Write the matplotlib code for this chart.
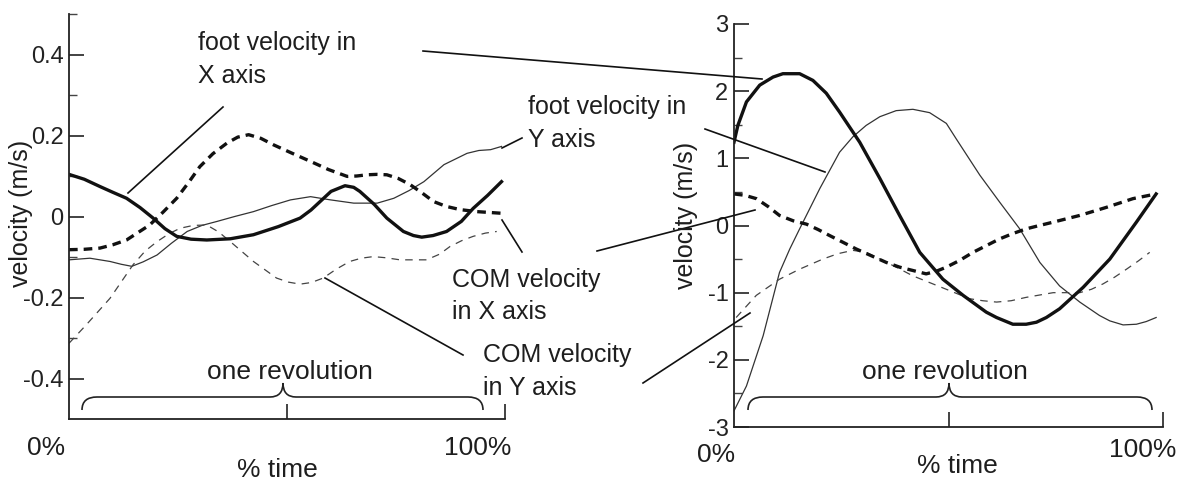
import numpy as np
import matplotlib.pyplot as plt
from matplotlib.path import Path
from matplotlib.patches import PathPatch

plt.rcParams['font.family'] = ['Liberation Sans', 'DejaVu Sans']

# painel esquerdo (escala -0.5 .. 0.5)
esq_pe_x_t = [0, 3.5, 7.1, 10, 13.2, 16.3, 19.3, 22, 24.7, 28, 31.6, 37, 42.3, 48, 53, 55.5, 57.6, 60.1, 63.3, 65.3, 66.7, 70, 72.9, 76.7, 79, 80.9, 83.5, 86.6, 90, 92.7, 96, 99.2]
esq_pe_x_v = [0.104, 0.092, 0.074, 0.060, 0.045, 0.022, -0.004, -0.030, -0.049, -0.056, -0.058, -0.055, -0.045, -0.025, -0.004, 0.016, 0.037, 0.062, 0.076, 0.072, 0.062, 0.030, -0.004, -0.037, -0.047, -0.051, -0.047, -0.037, -0.012, 0.020, 0.052, 0.086]

esq_com_x_t = [0, 3.5, 7.1, 10, 13.2, 18.5, 21.5, 24.7, 27.5, 30, 33, 36.2, 38.7, 41.2, 44, 46.9, 51, 55.4, 59.5, 63.8, 66, 68.4, 70.6, 72.9, 75.5, 78.2, 81, 83.6, 86.5, 89.7, 93.6, 99.2]
esq_com_x_v = [-0.082, -0.081, -0.078, -0.070, -0.058, -0.021, 0.010, 0.045, 0.085, 0.123, 0.155, 0.181, 0.196, 0.202, 0.193, 0.177, 0.157, 0.136, 0.116, 0.099, 0.100, 0.103, 0.104, 0.103, 0.094, 0.079, 0.058, 0.037, 0.025, 0.017, 0.012, 0.008]

esq_pe_y_t = [0, 4.8, 9.4, 12, 14.4, 17, 20.2, 23.5, 27.1, 30.5, 34, 38, 42.3, 46.5, 50.8, 55.4, 60, 65.3, 70.7, 74.5, 78, 81.4, 86, 91.3, 94, 96.7, 99.2]
esq_pe_y_v = [-0.107, -0.103, -0.111, -0.118, -0.123, -0.112, -0.095, -0.066, -0.037, -0.022, -0.012, 0.000, 0.012, 0.027, 0.041, 0.049, 0.041, 0.033, 0.033, 0.045, 0.064, 0.086, 0.128, 0.156, 0.163, 0.165, 0.173]

esq_com_y_t = [0, 4, 9.4, 14.7, 17.5, 20.2, 23, 25.5, 28.5, 31.6, 34.3, 37, 42.3, 47.6, 50.3, 53, 55.6, 58.3, 61.3, 64.4, 67, 69.8, 72.8, 75.9, 82, 85, 87.4, 90, 92.7, 95.5, 98.1]
esq_com_y_v = [-0.313, -0.267, -0.202, -0.119, -0.085, -0.062, -0.042, -0.029, -0.022, -0.021, -0.038, -0.062, -0.111, -0.152, -0.162, -0.167, -0.163, -0.152, -0.130, -0.111, -0.103, -0.099, -0.102, -0.107, -0.107, -0.093, -0.074, -0.060, -0.049, -0.041, -0.037]

# painel direito (escala -3 .. 3)
dir_pe_x_t = [0, 0.9, 2.9, 6, 9.1, 11.4, 15.3, 18.4, 21.5, 24.6, 29.3, 34, 38.6, 43.3, 48.7, 53.4, 58.8, 61.2, 65, 68.1, 70.5, 72.8, 75.9, 81.4, 87.6, 93.8, 98.4]
dir_pe_x_v = [1.24, 1.49, 1.84, 2.09, 2.21, 2.26, 2.26, 2.16, 1.97, 1.69, 1.24, 0.70, 0.15, -0.40, -0.80, -1.04, -1.29, -1.37, -1.47, -1.47, -1.44, -1.37, -1.24, -0.92, -0.50, 0.05, 0.47]

dir_pe_y_t = [0, 2.9, 6.8, 10.6, 13, 15.3, 20, 24.6, 27.7, 30.8, 34, 37.8, 41.7, 45.6, 49.5, 51.8, 57.3, 61.9, 66.6, 71.3, 75.9, 80.6, 85.2, 87.6, 90.7, 93.8, 96.1, 98.4]
dir_pe_y_v = [-2.76, -2.39, -1.64, -0.70, -0.35, -0.05, 0.55, 1.09, 1.32, 1.49, 1.62, 1.71, 1.73, 1.68, 1.52, 1.29, 0.75, 0.35, -0.05, -0.55, -0.90, -1.14, -1.34, -1.42, -1.48, -1.47, -1.43, -1.37]

dir_com_x_t = [0, 2.5, 5.2, 8, 10.6, 13.8, 16.9, 19.6, 22.3, 25.4, 28.5, 32, 35.5, 38.6, 41.7, 44.8, 47.2, 49.5, 52.6, 55.7, 58.8, 61.9, 65, 68.1, 71.2, 74.4, 80.6, 86.8, 93, 98.4]
dir_com_x_v = [0.47, 0.45, 0.40, 0.28, 0.15, 0.07, 0.02, -0.06, -0.15, -0.25, -0.35, -0.45, -0.55, -0.62, -0.67, -0.72, -0.68, -0.62, -0.52, -0.40, -0.30, -0.20, -0.12, -0.05, 0.00, 0.05, 0.15, 0.27, 0.40, 0.47]

dir_com_y_t = [0.5, 5.2, 10.6, 15.3, 20.7, 24.2, 27.7, 30.8, 34, 37.8, 41.7, 45.6, 49.5, 54.9, 58, 61.2, 64.6, 68.1, 74.4, 80.6, 83.3, 86, 88.7, 91.5, 94.2, 96.9]
dir_com_y_v = [-1.37, -1.04, -0.80, -0.65, -0.50, -0.42, -0.37, -0.40, -0.50, -0.62, -0.75, -0.85, -0.95, -1.09, -1.12, -1.14, -1.12, -1.07, -1.00, -1.00, -0.95, -0.87, -0.77, -0.65, -0.53, -0.40]

cor_texto = '#1e1e1e'
fig = plt.figure(figsize=(11.89, 4.8), dpi=100)


def desenha_painel(ax, dados, ylim, major, minor, rotulos):
    for t, v, estilo in dados:
        if estilo == 'grossa':
            ax.plot(t, v, color='#111111', lw=2.4, solid_joinstyle='round')
        elif estilo == 'fina':
            ax.plot(t, v, color='#333333', lw=0.9, solid_joinstyle='round')
        elif estilo == 'grossa_tracejada':
            ax.plot(t, v, color='#111111', lw=2.4, dashes=(2.6, 1.8))
        else:
            ax.plot(t, v, color='#444444', lw=0.9, dashes=(6, 5))
    ax.set_xlim(0, 100)
    ax.set_ylim(*ylim)
    for lado in ['top', 'right']:
        ax.spines[lado].set_visible(False)
    for lado in ['left', 'bottom']:
        ax.spines[lado].set_color('#222222')
        ax.spines[lado].set_linewidth(1.3)
    ax.set_yticks(major)
    ax.set_yticklabels(rotulos)
    ax.set_yticks(minor, minor=True)
    ax.set_xticks([50, 100])
    ax.set_xticklabels([])
    ax.tick_params(axis='y', which='major', direction='in', length=11, width=1.2,
                   labelsize=17, colors='#222222', pad=4)
    ax.tick_params(axis='y', which='minor', direction='in', length=6, width=1.0, colors='#444444')
    ax.tick_params(axis='x', which='major', direction='in', length=11, width=1.2, colors='#222222')
    ax.patch.set_alpha(0)


ax1 = fig.add_axes([69 / 1189, 61 / 480, 436 / 1189, 405 / 480])
desenha_painel(ax1,
               [(esq_pe_y_t, esq_pe_y_v, 'fina'),
                (esq_com_y_t, esq_com_y_v, 'fina_tracejada'),
                (esq_com_x_t, esq_com_x_v, 'grossa_tracejada'),
                (esq_pe_x_t, esq_pe_x_v, 'grossa')],
               (-0.5, 0.5), [0.4, 0.2, 0, -0.2, -0.4], [0.5, 0.3, 0.1, -0.1, -0.3],
               ['0.4', '0.2', '0', '-0.2', '-0.4'])

ax2 = fig.add_axes([734 / 1189, 53 / 480, 429 / 1189, 403 / 480])
desenha_painel(ax2,
               [(dir_pe_y_t, dir_pe_y_v, 'fina'),
                (dir_com_y_t, dir_com_y_v, 'fina_tracejada'),
                (dir_com_x_t, dir_com_x_v, 'grossa_tracejada'),
                (dir_pe_x_t, dir_pe_x_v, 'grossa')],
               (-3, 3), [3, 2, 1, 0, -1, -2, -3], [2.5, 1.5, 0.5, -0.5, -1.5, -2.5],
               ['3', '2', '1', '0', '-1', '-2', '-3'])

# camada por cima para textos, linhas de chamada e chaves (em pixels)
ov = fig.add_axes([0, 0, 1, 1])
ov.set_xlim(0, 1189)
ov.set_ylim(480, 0)
ov.axis('off')
ov.patch.set_alpha(0)

fs = 18
textos = [
    (198, 43, 'foot velocity in'), (198, 76, 'X axis'),
    (528, 107, 'foot velocity in'), (528, 140, 'Y axis'),
    (452, 280, 'COM velocity'), (452, 312, 'in X axis'),
    (483, 355, 'COM velocity'), (483, 388, 'in Y axis'),
]
for x, y, s in textos:
    ov.text(x, y, s, fontsize=fs, color=cor_texto, ha='left', va='center')

chamadas = [
    ((128, 193), (223, 107)),
    ((423, 51), (762, 79)),
    ((502, 148), (522, 138)),
    ((705, 129), (825, 172)),
    ((502, 220), (522, 252)),
    ((597, 251), (755, 210)),
    ((325, 278), (463, 355)),
    ((643, 383), (750, 313)),
]
for (xa, ya), (xb, yb) in chamadas:
    ov.plot([xa, xb], [ya, yb], color='#111111', lw=1.2)

# rótulos dos eixos
ov.text(46, 448, '0%', fontsize=19, color=cor_texto, ha='center', va='center')
ov.text(478, 448, '100%', fontsize=19, color=cor_texto, ha='center', va='center')
ov.text(277, 470, '% time', fontsize=19, color=cor_texto, ha='center', va='center')
ov.text(716, 455, '0%', fontsize=19, color=cor_texto, ha='center', va='center')
ov.text(1143, 450, '100%', fontsize=19, color=cor_texto, ha='center', va='center')
ov.text(957, 466, '% time', fontsize=19, color=cor_texto, ha='center', va='center')
ov.text(21, 213, 'velocity (m/s)', fontsize=18, color=cor_texto, rotation=90, ha='center', va='center')
ov.text(686, 215, 'velocity (m/s)', fontsize=18, color=cor_texto, rotation=90, ha='center', va='center')

ov.text(290, 372, 'one revolution', fontsize=19, color=cor_texto, ha='center', va='center')
ov.text(945, 372, 'one revolution', fontsize=19, color=cor_texto, ha='center', va='center')


def chave(x0, x1, xm, y_plano=397, y_ponta=410, y_bico=383, r=15, rb=13):
    verts = [(x0, y_ponta), (x0, y_plano), (x0 + r, y_plano),
             (xm - rb, y_plano), (xm, y_plano), (xm, y_bico),
             (xm, y_plano), (xm + rb, y_plano),
             (x1 - r, y_plano), (x1, y_plano), (x1, y_ponta)]
    codes = [Path.MOVETO, Path.CURVE3, Path.CURVE3,
             Path.LINETO, Path.CURVE3, Path.CURVE3,
             Path.CURVE3, Path.CURVE3,
             Path.LINETO, Path.CURVE3, Path.CURVE3]
    ov.add_patch(PathPatch(Path(verts, codes), fill=False, edgecolor='#222222', lw=1.2))


chave(82, 483, 283)
chave(748, 1152, 949)

fig.savefig('out.png', dpi=100)
